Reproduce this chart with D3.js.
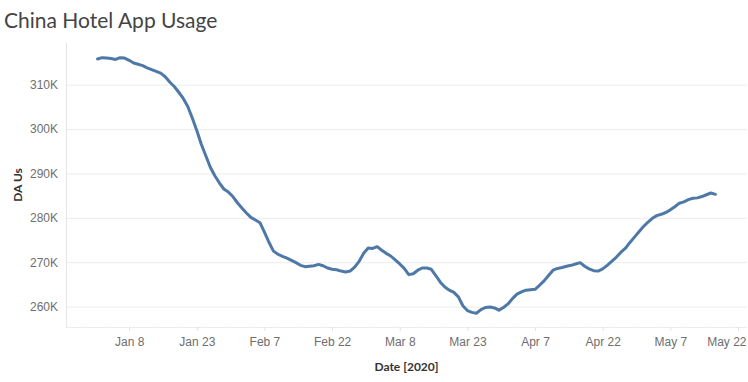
<!DOCTYPE html>
<html>
<head>
<meta charset="utf-8">
<script src="https://cdn.jsdelivr.net/npm/d3@7"></script>
<style>
  body { margin: 0; background: #fff; }
  svg { display: block; font-family: Lato, "Open Sans", sans-serif; }
  .tick text { fill: #6e6e6e; font-size: 12px; }
  .axis-title { fill: #333; font-size: 12px; font-weight: bold; }
</style>
</head>
<body>
<svg id="chart"></svg>
<script>
// daily DAUs in thousands, Jan 1 2020 .. May 17 2020
const startDate = '2020-01-01';
const dauK = [
  315.8, 316.1, 316.0, 315.9, 315.7, 316.1, 316.0, 315.5, 314.9, 314.6,
  314.3, 313.8, 313.4, 313.0, 312.6, 311.8, 310.6, 309.6, 308.3, 306.9,
  305.1, 302.5, 299.7, 296.6, 294.0, 291.4, 289.5, 287.9, 286.5, 285.8,
  284.8, 283.4, 282.2, 281.1, 280.1, 279.5, 278.9, 276.8, 274.5, 272.5,
  271.8, 271.3, 270.9, 270.4, 269.9, 269.3, 269.0, 269.1, 269.2, 269.5,
  269.2, 268.7, 268.4, 268.3, 268.0, 267.8, 268.0, 268.9, 270.2, 272.0,
  273.2, 273.1, 273.5, 272.7, 272.0, 271.4, 270.5, 269.6, 268.6, 267.2,
  267.4, 268.2, 268.7, 268.7, 268.4, 267.0, 265.5, 264.4, 263.7, 263.2,
  262.2, 260.2, 259.1, 258.7, 258.5, 259.3, 259.8, 259.9, 259.7, 259.2,
  259.8, 260.6, 261.8, 262.8, 263.3, 263.7, 263.8, 263.9, 264.8, 265.8,
  267.0, 268.2, 268.6, 268.8, 269.1, 269.3, 269.6, 269.9, 269.1, 268.5,
  268.1, 268.0, 268.5, 269.3, 270.2, 271.1, 272.2, 273.1, 274.4, 275.6,
  276.8, 278.0, 279.0, 279.9, 280.5, 280.8, 281.2, 281.8, 282.5, 283.3,
  283.6, 284.1, 284.4, 284.5, 284.8, 285.2, 285.6, 285.3
];
const xTickDates = ['2020-01-08', '2020-01-23', '2020-02-07', '2020-02-22', '2020-03-08',
  '2020-03-23', '2020-04-07', '2020-04-22', '2020-05-07', '2020-05-22'];
const yTickValues = [260000, 270000, 280000, 290000, 300000, 310000];

const parse = d3.timeParse('%Y-%m-%d');
const t0 = parse(startDate);
const data = dauK.map((v, i) => ({ date: d3.timeDay.offset(t0, i), value: v * 1000 }));

const width = 748, height = 382;
const plot = { left: 66, right: 747, top: 43, bottom: 327 };

const svg = d3.select('#chart').attr('width', width).attr('height', height);

const x = d3.scaleTime()
    .domain([parse('2019-12-25'), parse('2020-05-24')])
    .range([plot.left, plot.right]);
const y = d3.scaleLinear()
    .domain([255400, 319400])
    .range([plot.bottom, plot.top]);

// title
svg.append('text')
    .attr('x', 4)
    .attr('y', 28)
    .attr('fill', '#444')
    .style('font-size', '21px')
    .text('China Hotel App Usage');

// gridlines + y labels
const yAxisG = svg.append('g')
    .attr('transform', `translate(${plot.left},0)`)
    .call(d3.axisLeft(y)
      .tickValues(yTickValues)
      .tickSize(-(plot.right - plot.left))
      .tickPadding(8)
      .tickFormat(d => (d / 1000) + 'K'));
yAxisG.select('.domain').remove();
yAxisG.selectAll('.tick line').attr('stroke', '#ececec');

// left axis line
svg.append('line')
    .attr('x1', plot.left + 0.5).attr('x2', plot.left + 0.5)
    .attr('y1', plot.top).attr('y2', plot.bottom)
    .attr('stroke', '#e6e6e6');

// x axis
const xAxisG = svg.append('g')
    .attr('transform', `translate(0,${plot.bottom})`)
    .call(d3.axisBottom(x)
      .tickValues(xTickDates.map(parse))
      .tickSize(4)
      .tickSizeOuter(0)
      .tickPadding(6)
      .tickFormat(d3.timeFormat('%b %-d')));
xAxisG.select('.domain')
    .attr('stroke', '#e3e3e3')
    .attr('stroke-dasharray', '2,1');
xAxisG.selectAll('.tick line').attr('stroke', '#e3e3e3');

// last label is pulled in so it stays inside the view
xAxisG.selectAll('.tick text')
    .filter((d, i, nodes) => i === nodes.length - 1)
    .attr('text-anchor', 'end')
    .attr('dx', width - 2 - x(parse(xTickDates[xTickDates.length - 1])));

// axis titles
svg.append('text')
    .attr('class', 'axis-title')
    .attr('x', (plot.left + plot.right) / 2)
    .attr('y', 371)
    .attr('text-anchor', 'middle')
    .text('Date [2020]');

svg.append('text')
    .attr('class', 'axis-title')
    .attr('transform', `translate(22,${(plot.top + plot.bottom) / 2}) rotate(-90)`)
    .attr('text-anchor', 'middle')
    .text('DA Us');

// the line
const line = d3.line()
    .x(d => x(d.date))
    .y(d => y(d.value));

svg.append('path')
    .datum(data)
    .attr('fill', 'none')
    .attr('stroke', '#4e79a7')
    .attr('stroke-width', 3)
    .attr('stroke-linejoin', 'round')
    .attr('stroke-linecap', 'round')
    .attr('d', line);
</script>
</body>
</html>
